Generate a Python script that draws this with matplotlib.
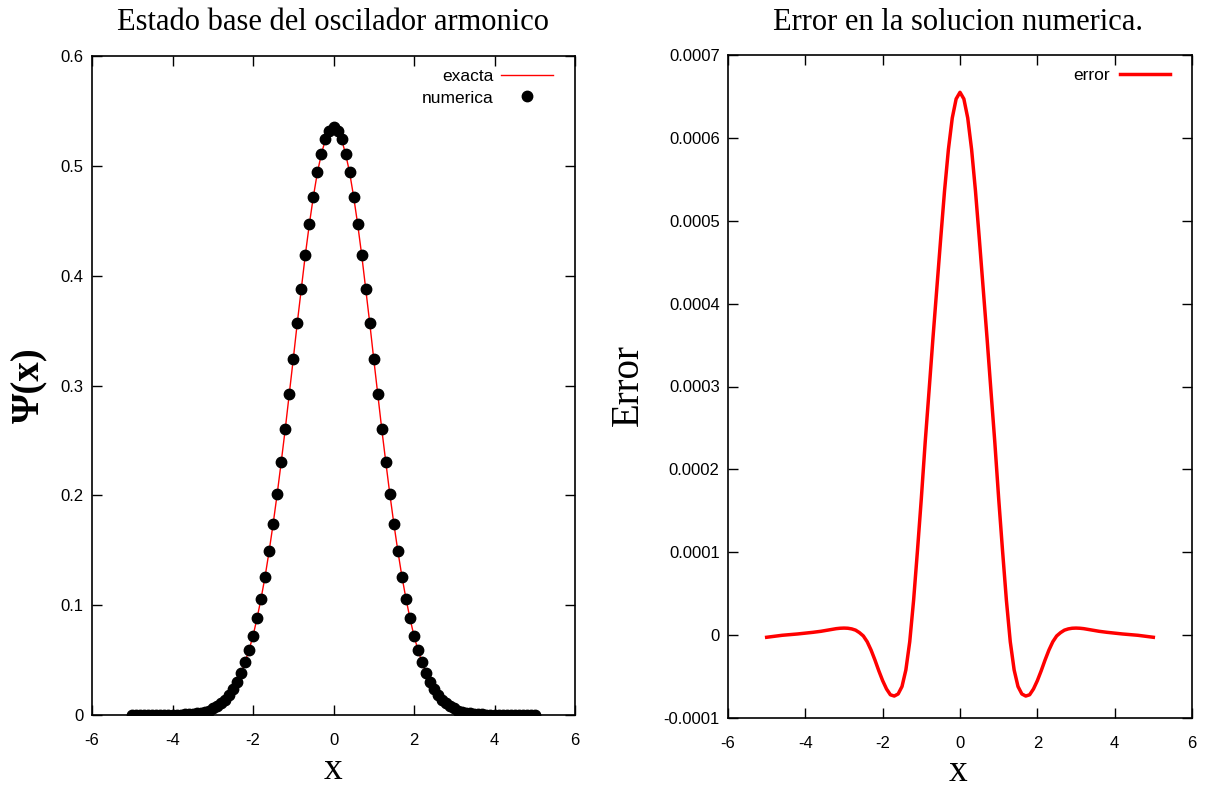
import numpy as np
import matplotlib
matplotlib.use("Agg")
from matplotlib import pyplot as plt
from matplotlib.ticker import FuncFormatter

# x grid of the numerical solution (-5 .. 5, step 0.1)
x = np.round(np.linspace(-5, 5, 101), 2)

# ground state wave function
psi = [0.0, 0.0, 0.0, 0.0, 0.0, 0.0, 0.0, 0.0, 0.0, 0.0,
       0.0, 0.0, 0.0, 0.001, 0.001, 0.001, 0.002, 0.002, 0.003, 0.004,
       0.006, 0.008, 0.011, 0.014, 0.018, 0.024, 0.030, 0.038, 0.048, 0.059,
       0.072, 0.088, 0.106, 0.126, 0.149, 0.174, 0.201, 0.230, 0.260, 0.292,
       0.324, 0.357, 0.388, 0.419, 0.447, 0.472, 0.494, 0.511, 0.524, 0.532,
       0.535,
       0.532, 0.524, 0.511, 0.494, 0.472, 0.447, 0.419, 0.388, 0.357, 0.324,
       0.292, 0.260, 0.230, 0.201, 0.174, 0.149, 0.126, 0.106, 0.088, 0.072,
       0.059, 0.048, 0.038, 0.030, 0.024, 0.018, 0.014, 0.011, 0.008, 0.006,
       0.004, 0.003, 0.002, 0.002, 0.001, 0.001, 0.001, 0.0, 0.0, 0.0,
       0.0, 0.0, 0.0, 0.0, 0.0, 0.0, 0.0, 0.0, 0.0, 0.0]

# error of the numerical solution, in units of 1e-4
err = [-0.026, -0.020, -0.014, -0.008, -0.002, 0.002, 0.006, 0.010, 0.014, 0.019,
       0.024, 0.029, 0.034, 0.040, 0.046, 0.054, 0.062, 0.070, 0.078, 0.083,
       0.085, 0.083, 0.075, 0.06, 0.03, -0.01, -0.08, -0.18, -0.30, -0.43,
       -0.55, -0.65, -0.72, -0.735, -0.71, -0.62, -0.42, -0.08, 0.42, 1.02,
       1.65, 2.33, 2.95, 3.58, 4.18, 4.78, 5.36, 5.86, 6.24, 6.47,
       6.55,
       6.47, 6.24, 5.86, 5.36, 4.78, 4.18, 3.58, 2.95, 2.33, 1.65,
       1.02, 0.42, -0.08, -0.42, -0.62, -0.71, -0.735, -0.72, -0.65, -0.55,
       -0.43, -0.30, -0.18, -0.08, -0.01, 0.03, 0.06, 0.075, 0.083, 0.085,
       0.083, 0.078, 0.070, 0.062, 0.054, 0.046, 0.040, 0.034, 0.029, 0.024,
       0.019, 0.014, 0.010, 0.006, 0.002, -0.002, -0.008, -0.014, -0.020, -0.026]

serif = ['Liberation Serif', 'DejaVu Serif']
sans = ['Liberation Sans', 'DejaVu Sans']
plt.rcParams['font.family'] = sans
plt.rcParams['font.size'] = 12

W, H = 1208, 792
fig = plt.figure(figsize=(W / 100, H / 100), dpi=100)


def px_axes(l, t, r, b):
    return fig.add_axes([l / W, 1 - b / H, (r - l) / W, (b - t) / H])


def style(ax):
    ax.tick_params(direction='in', top=True, right=True, length=7, width=1,
                   labelsize=12)
    ax.tick_params(axis='y', pad=6)
    ax.tick_params(axis='x', pad=13)
    for s in ax.spines.values():
        s.set_linewidth(1.2)
    ax.xaxis.set_major_formatter(FuncFormatter(lambda v, p: '%g' % round(v, 6)))
    ax.yaxis.set_major_formatter(FuncFormatter(lambda v, p: '%g' % round(v, 6)))


# left panel
ax1 = px_axes(92, 56, 575, 715)
ax1.plot(x, psi, color='red', lw=1, label='exacta')
ax1.plot(x, psi, 'o', color='black', ms=7.5, label='numerica')
ax1.set_xlim(-6, 6)
ax1.set_ylim(0, 0.6)
ax1.set_xticks(np.arange(-6, 7, 2))
ax1.set_yticks(np.arange(0, 0.61, 0.1))
style(ax1)
ax1.legend(loc='upper right', bbox_to_anchor=(0.954, 0.98), frameon=False,
           markerfirst=False, numpoints=1, handlelength=3.0, handletextpad=0.4,
           labelspacing=0.35, borderaxespad=0, borderpad=0, fontsize=12.5)
fig.text(333 / W, 1 - 22 / H, 'Estado base del oscilador armonico',
         ha='center', va='center', family=serif, fontsize=22)
fig.text(333 / W, 1 - 770 / H, 'x', ha='center', va='center', family=serif, fontsize=27)
fig.text(30 / W, 1 - 385 / H, 'Ψ(x)', ha='center', va='center', rotation=90,
         family=serif, fontsize=28, fontweight='bold')

# right panel
ax2 = px_axes(728, 55, 1192, 718)
ax2.plot(x, np.array(err) * 1e-4, color='red', lw=2.5, label='error')
ax2.set_xlim(-6, 6)
ax2.set_ylim(-0.0001, 0.0007)
ax2.set_xticks(np.arange(-6, 7, 2))
ax2.set_yticks(np.arange(-0.0001, 0.00071, 0.0001))
style(ax2)
ax2.legend(loc='upper right', bbox_to_anchor=(0.953, 0.98), frameon=False,
           markerfirst=False, handlelength=2.9, handletextpad=0.6,
           borderaxespad=0, borderpad=0, fontsize=12.5)
fig.text(958 / W, 1 - 22 / H, 'Error en la solucion numerica.',
         ha='center', va='center', family=serif, fontsize=22)
fig.text(958 / W, 1 - 772 / H, 'x', ha='center', va='center', family=serif, fontsize=27)
fig.text(628 / W, 1 - 385 / H, 'Error', ha='center', va='center', rotation=90,
         family=serif, fontsize=28)

fig.savefig('out.png', dpi=100)
